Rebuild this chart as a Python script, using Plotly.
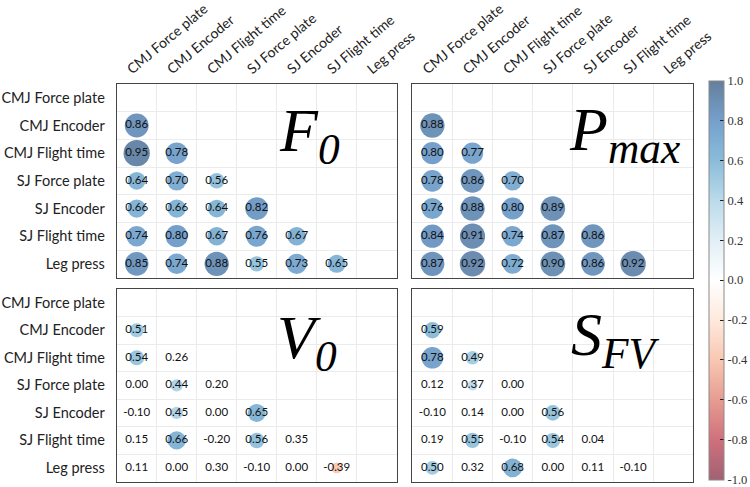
import plotly.graph_objects as go

# ---------------- data ----------------
variables = ["CMJ Force plate", "CMJ Encoder", "CMJ Flight time", "SJ Force plate",
             "SJ Encoder", "SJ Flight time", "Leg press"]

f0_rows = [[], [0.86], [0.95, 0.78], [0.64, 0.70, 0.56], [0.66, 0.66, 0.64, 0.82],
           [0.74, 0.80, 0.67, 0.76, 0.67], [0.85, 0.74, 0.88, 0.55, 0.73, 0.65]]
pmax_rows = [[], [0.88], [0.80, 0.77], [0.78, 0.86, 0.70], [0.76, 0.88, 0.80, 0.89],
             [0.84, 0.91, 0.74, 0.87, 0.86], [0.87, 0.92, 0.72, 0.90, 0.86, 0.92]]
v0_rows = [[], [0.51], [0.54, 0.26], [0.00, 0.44, 0.20], [-0.10, 0.45, 0.00, 0.65],
           [0.15, 0.66, -0.20, 0.56, 0.35], [0.11, 0.00, 0.30, -0.10, 0.00, -0.39]]
sfv_rows = [[], [0.59], [0.78, 0.49], [0.12, 0.37, 0.00], [-0.10, 0.14, 0.00, 0.56],
            [0.19, 0.55, -0.10, 0.54, 0.04], [0.50, 0.32, 0.68, 0.00, 0.11, -0.10]]

panel_titles = [("F", "0"), ("P", "max"), ("V", "0"), ("S", "FV")]

r_critical = 0.36  # circles drawn only where |r| exceeds the critical value

cb_tickvals = [1.0, 0.8, 0.6, 0.4, 0.2, 0.0, -0.2, -0.4, -0.6, -0.8, -1.0]
cb_ticktext = ["1.0", "0.8", "0.6", "0.4", "0.2", "0.0", "-0.2", "-0.4", "-0.6", "-0.8", "-1.0"]

# ---------------- styling ----------------
W, H = 750, 487
palette = ["#67001F", "#B2182B", "#D6604D", "#F4A582", "#FDDBC7", "#FFFFFF",
           "#D1E5F0", "#92C5DE", "#4393C3", "#2166AC", "#053061"]
ALPHA = 0.62


def blend(hexc, a=ALPHA):
    r, g, b = int(hexc[1:3], 16), int(hexc[3:5], 16), int(hexc[5:7], 16)
    return "rgb(%d,%d,%d)" % (round(255 - a * (255 - r)), round(255 - a * (255 - g)),
                              round(255 - a * (255 - b)))


colorscale = [[i / 10, blend(c)] for i, c in enumerate(palette)]

# panel pixel boxes: (x0, x1, y0, y1)
panels = [
    (116.7, 396.7, 84.0, 277.7),
    (412.3, 693.3, 84.0, 277.7),
    (116.7, 396.7, 289.0, 481.7),
    (412.3, 693.3, 289.0, 481.7),
]
# title anchor positions (left x, vertical middle y) in pixels
title_pos = [(278, 135), (568, 133), (276, 341), (570, 338)]
all_rows = [f0_rows, pmax_rows, v0_rows, sfv_rows]

CB_TOP, CB_BOT = 80.7, 479.5

fig = go.Figure()
MINOR = dict(tickvals=[1.5, 2.5, 3.5, 4.5, 5.5, 6.5], showgrid=True,
             gridcolor="#ebebeb", gridwidth=1)

for k, (rows, box) in enumerate(zip(all_rows, panels)):
    xs, ys, vals = [], [], []
    for i, row in enumerate(rows):
        for j, v in enumerate(row):
            xs.append(j + 1)
            ys.append(i + 1)
            vals.append(v)
    sx = [x for x, v in zip(xs, vals) if abs(v) > r_critical]
    sy = [y for y, v in zip(ys, vals) if abs(v) > r_critical]
    sv = [v for v in vals if abs(v) > r_critical]
    xa = "x" if k == 0 else "x%d" % (k + 1)
    ya = "y" if k == 0 else "y%d" % (k + 1)
    fig.add_trace(go.Scatter(
        x=sx, y=sy, mode="markers", xaxis=xa, yaxis=ya, hoverinfo="skip",
        marker=dict(size=[27.7 * abs(v) for v in sv], color=sv, colorscale=colorscale,
                    cmin=-1, cmax=1, line=dict(width=0), opacity=1,
                    showscale=(k == 0),
                    colorbar=dict(x=709 / W, xanchor="left", xpad=0, ypad=0,
                                  y=1 - (CB_TOP + CB_BOT) / 2 / H, yanchor="middle",
                                  len=(CB_BOT - CB_TOP) / H, lenmode="fraction", thickness=15,
                                  outlinewidth=1, outlinecolor="#8a8a8a",
                                  tickvals=cb_tickvals, ticktext=cb_ticktext,
                                  ticks="inside", ticklen=4, tickcolor="#222",
                                  ticklabeloverflow="allow",
                                  tickfont=dict(family="Liberation Serif", size=12.5, color="#333"))),
        showlegend=False))
    fig.add_trace(go.Scatter(
        x=xs, y=ys, mode="text", xaxis=xa, yaxis=ya, hoverinfo="skip",
        text=["%.2f" % v for v in vals],
        textfont=dict(family="Lato", size=11.5, color="#111"),
        showlegend=False))

    x0, x1, y0, y1 = box
    axx = dict(domain=[x0 / W, x1 / W], range=[0.5, 7.5], anchor=ya,
               tickvals=list(range(1, 8)), ticktext=variables,
               showticklabels=(k < 2), side="top", tickangle=-40,
               ticks="", ticklabelstandoff=1, ticklabelshift=-9,
               tickfont=dict(family="Lato", size=14, color="#222"),
               showgrid=False, zeroline=False,
               showline=True, mirror=True, linecolor="#444", linewidth=1,
               minor=MINOR, fixedrange=True, automargin=False)
    axy = dict(domain=[1 - y1 / H, 1 - y0 / H], range=[7.5, 0.5], anchor=xa,
               tickvals=list(range(1, 8)), ticktext=variables,
               showticklabels=(k % 2 == 0),
               ticks="", ticklabelstandoff=8,
               tickfont=dict(family="Lato", size=14.5, color="#222"),
               showgrid=False, zeroline=False,
               showline=True, mirror=True, linecolor="#444", linewidth=1,
               minor=MINOR, fixedrange=True, automargin=False)
    xname = "xaxis" if k == 0 else "xaxis%d" % (k + 1)
    yname = "yaxis" if k == 0 else "yaxis%d" % (k + 1)
    fig.update_layout(**{xname: axx, yname: axy})

    main, sub = panel_titles[k]
    tx, ty = title_pos[k]
    fig.add_annotation(text="<i>%s<sub>%s</sub></i>" % (main, sub), xref="paper", yref="paper",
                       x=tx / W, y=1 - ty / H, xanchor="left", yanchor="middle",
                       showarrow=False, borderpad=0,
                       font=dict(family="Liberation Serif", size=62, color="#000"))

fig.update_layout(width=W, height=H,
                  margin=dict(l=0, r=0, t=0, b=0, pad=0, autoexpand=False),
                  paper_bgcolor="white", plot_bgcolor="white")

fig.write_html("out.html", config={"displayModeBar": False},
               post_script="document.body.style.margin='0';document.body.style.padding='0';")
